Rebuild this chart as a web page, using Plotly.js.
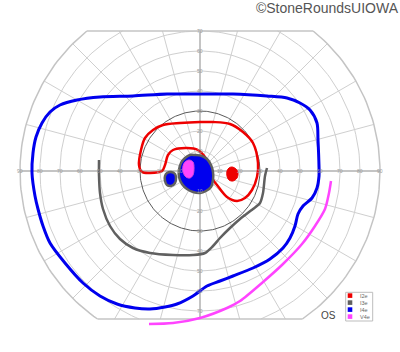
<!DOCTYPE html>
<html><head><meta charset="utf-8">
<script src="https://cdn.plot.ly/plotly-3.0.1.min.js"></script>
<style>html,body{margin:0;padding:0;background:#fff}#chart{width:400px;height:352px}</style>
</head><body><div id="chart"></div>
<script>
// ---------- text ----------
const titleText = '\u00A9StoneRoundsUIOWA';
const eyeLabel = 'OS';
const legendNames = ['I2e', 'I3e', 'I4e', 'V4e'];
const legendColors = ['#ee0000', '#606060', '#0000ee', '#ff44ff'];
const ringDegrees = [10, 20, 30, 40, 50, 60, 70, 80, 90];
const hTickLabels = [10, 20, 30, 40, 50, 60, 70, 80, 90];
const vTickLabels = [10, 20, 30, 40, 50, 60, 70];
const spokeStep = 15;
const fieldTop = 70, fieldBottom = 74, fieldOuter = 90;

// ---------- isopters (degrees: x = temporal/nasal, y = superior/inferior) ----------
const i4eX = [59.5, 59, 58.5, 55, 50, 43.5, 33.5, 16.5, 0, -16.5, -33.5, -50, -61.5, -70, -75, -79, -82, -83.5, -84,
  -82.5, -81, -78.5, -75, -67.5, -58.5, -50, -41.5, -32.5, -25, -17.5, -11.5, -3.5, 3.5, 10, 16.5, 26.5, 35, 41.5,
  45, 47.5, 49, 51.5, 56, 58.5, 59.5, 59.5];
const i4eY = [2, 15.5, 24, 30.5, 34, 36.5, 37.5, 38.5, 38.5, 38.5, 37.5, 37, 35.5, 33, 29.5, 24, 17, 9, -1,
  -12.5, -19, -27.5, -36, -46, -56, -62.5, -66.5, -68.5, -69, -68, -66.5, -62.5, -57.5, -55, -52.5, -48.5, -44, -38.5,
  -33.5, -27.5, -21.5, -17.5, -13.5, -8.5, -2.5, 2];

const i2eX = [0, 6.5, 15, 21.5, 26.5, 29, 28.5, 26, 22.5, 18.5, 13.5, 8.5, 6, 5, 2.5, -1, -6.5, -13.5, -16, -17.5,
  -19, -25, -29, -30.5, -29.5, -27.5, -23.5, -18.5, -10, 0];
const i2eY = [24.5, 24.5, 23.5, 19.5, 14, 4, -3, -9.5, -13.5, -15, -13, -7, -3.5, 2, 7, 10.5, 11.5, 10.5, 8, 3,
  0, -1, -0.5, 3, 10.5, 16.5, 20.5, 23, 24, 24.5];
const i2eSpotX = [16, 18, 19, 18.5, 16.5, 14.5, 13.5, 13.5, 14.5, 16];
const i2eSpotY = [2, 1, -1, -3.5, -5, -4.5, -2.5, 0, 1.5, 2];

const i3eX = [-50.5, -50.5, -50, -48.5, -45, -40, -33.5, -25, -13.5, -3.5, 2.5, 6.5, 10, 15, 20, 26.5, 30, 31.5, 32.5, 33.5];
const i3eY = [5.5, -2.5, -11, -19, -27.5, -34, -38.5, -41, -42, -42, -41, -37.5, -33.5, -28.5, -24, -19, -16, -11, -2.5, 1.5];

const v4eX = [-25.5, -13.5, 0, 13.5, 20, 31.5, 41.5, 51, 57.5, 62.5, 64.5, 65.5];
const v4eY = [-76.5, -76, -73.5, -68.5, -65, -55.5, -46.5, -36.5, -27.5, -19, -11, -5];

const centerBlobX = [-2.5, 1, 3.5, 5.5, 6.5, 6.5, 5.5, 3, 0, -3.5, -6.5, -9, -10.5, -10.5, -9.5, -7.5, -5, -2.5];
const centerBlobY = [8, 7.5, 6, 3, -0.5, -4.5, -8, -10, -11, -10.5, -9, -6.5, -3, 0.5, 4, 6.5, 8, 8];
const leftBlobX = [-14.5, -12.5, -12, -12.5, -14.5, -16.5, -17.5, -17.5, -16.5, -14.5];
const leftBlobY = [-0.5, -1.5, -3.5, -6, -7.5, -7, -5, -2.5, -1, -0.5];
const v4eSpotX = [-5.5, -3.5, -3, -3.5, -5, -7, -8.5, -8.5, -7.5, -5.5];
const v4eSpotY = [5.5, 4.5, 1.5, -2, -3.5, -3, -0.5, 2.5, 4.5, 5.5];

// ---------- grid geometry ----------
const rad = d => d * Math.PI / 180;
function arc(r, a0, a1, xs, ys) {
  const n = Math.max(8, Math.ceil(Math.abs(a1 - a0) / 1.5));
  for (let i = 0; i <= n; i++) {
    const a = rad(a0 + (a1 - a0) * i / n);
    xs.push(r * Math.cos(a)); ys.push(r * Math.sin(a));
  }
  xs.push(null); ys.push(null);
}
function ringPath(r, xs, ys) {
  if (r <= fieldTop) { arc(r, 0, 360, xs, ys); return; }
  const at = Math.asin(Math.min(1, fieldTop / r)) * 180 / Math.PI;
  const ab = Math.asin(Math.min(1, fieldBottom / r)) * 180 / Math.PI;
  arc(r, -ab, at, xs, ys);
  arc(r, 180 - at, 180 + ab, xs, ys);
}
const gx = [], gy = [], dx30 = [], dy30 = [], bx = [], by = [];
ringDegrees.forEach(r => {
  if (r === 30) ringPath(r, dx30, dy30);
  else if (r === fieldOuter) ringPath(r, bx, by);
  else ringPath(r, gx, gy);
});
const topHalf = Math.sqrt(fieldOuter * fieldOuter - fieldTop * fieldTop);
const botHalf = Math.sqrt(fieldOuter * fieldOuter - fieldBottom * fieldBottom);
bx.push(-topHalf, topHalf, null, -botHalf, botHalf, null);
by.push(fieldTop, fieldTop, null, -fieldBottom, -fieldBottom, null);
for (let a = spokeStep; a < 360; a += spokeStep) {
  if (a % 90 === 0) continue;
  const s = Math.sin(rad(a));
  let d = fieldOuter;
  if (s > 0) d = Math.min(d, fieldTop / s);
  if (s < 0) d = Math.min(d, fieldBottom / -s);
  gx.push(0, d * Math.cos(rad(a)), null);
  gy.push(0, d * Math.sin(rad(a)), null);
}

const traces = [
  {x: gx, y: gy, mode: 'lines', line: {color: '#cfcfcf', width: 1}, hoverinfo: 'skip'},
  {x: bx, y: by, mode: 'lines', line: {color: '#c4c4c4', width: 1.5}, hoverinfo: 'skip'},
  {x: [-fieldOuter, fieldOuter, null, 0, 0], y: [0, 0, null, -fieldBottom, fieldTop], mode: 'lines',
   line: {color: '#c4c4c4', width: 2}, hoverinfo: 'skip'},
  {x: dx30, y: dy30, mode: 'lines', line: {color: '#5a5a5a', width: 1}, hoverinfo: 'skip'},
  // isopters
  {x: i4eX, y: i4eY, mode: 'lines', line: {color: legendColors[2], width: 3, shape: 'spline', smoothing: 0.8}},
  {x: i3eX, y: i3eY, mode: 'lines', line: {color: legendColors[1], width: 2.5, shape: 'spline', smoothing: 0.8}},
  {x: v4eX, y: v4eY, mode: 'lines', line: {color: legendColors[3], width: 2.5, shape: 'spline', smoothing: 0.8}},
  {x: i2eX, y: i2eY, mode: 'lines', line: {color: legendColors[0], width: 2.5, shape: 'spline', smoothing: 0.9}},
  {x: i2eSpotX, y: i2eSpotY, mode: 'lines', fill: 'toself', fillcolor: legendColors[0],
   line: {color: legendColors[0], width: 1, shape: 'spline'}},
  {x: centerBlobX, y: centerBlobY, mode: 'lines', fill: 'toself', fillcolor: legendColors[2],
   line: {color: legendColors[1], width: 2.5, shape: 'spline'}},
  {x: leftBlobX, y: leftBlobY, mode: 'lines', fill: 'toself', fillcolor: legendColors[2],
   line: {color: legendColors[1], width: 2.5, shape: 'spline'}},
  {x: v4eSpotX, y: v4eSpotY, mode: 'lines', fill: 'toself', fillcolor: legendColors[3],
   line: {color: '#d84ad8', width: 1, shape: 'spline'}}
];

// ---------- annotations ----------
const P2X = px => (px - 200) / 2, P2Y = py => (171 - py) / 2;
const ann = [];
const tickFont = {family: 'Liberation Sans, Arial, sans-serif', size: 5, color: '#9a9a9a'};
hTickLabels.forEach(v => {
  ann.push({x: -v, y: 0, text: String(v), showarrow: false, font: tickFont});
  ann.push({x: v, y: 0, text: String(v), showarrow: false, font: tickFont});
});
vTickLabels.forEach(v => {
  ann.push({x: 0, y: v, text: String(v), showarrow: false, font: tickFont});
  ann.push({x: 0, y: -v, text: String(v), showarrow: false, font: tickFont});
});
ann.push({x: P2X(328.5), y: P2Y(315.5), text: eyeLabel, showarrow: false,
  font: {family: 'Liberation Sans, Arial, sans-serif', size: 10, color: '#444'}});
const shapes = [{type: 'rect', x0: P2X(345.7), x1: P2X(372.7), y0: P2Y(292.3), y1: P2Y(321),
  line: {color: '#bdbdbd', width: 1}, fillcolor: 'rgba(0,0,0,0)'}];
legendNames.forEach((name, i) => {
  const cy = 295.6 + i * 7;
  shapes.push({type: 'rect', x0: P2X(347.7), x1: P2X(352.3), y0: P2Y(cy - 2.3), y1: P2Y(cy + 2.3),
    line: {width: 0}, fillcolor: legendColors[i]});
  ann.push({x: P2X(357.5), y: P2Y(cy), xanchor: 'left', text: name, showarrow: false,
    font: {family: 'Liberation Sans, Arial, sans-serif', size: 5.5, color: '#666'}});
});

const layout = {
  width: 400, height: 352,
  margin: {l: 18, r: 18, t: 11, b: 21, pad: 0},
  paper_bgcolor: '#fff', plot_bgcolor: '#fff',
  showlegend: false,
  title: {text: titleText, x: 0.995, xref: 'container', xanchor: 'right', y: 0.977, yref: 'container',
    yanchor: 'middle', font: {family: 'Liberation Sans, Arial, sans-serif', size: 14, color: '#555'}},
  xaxis: {range: [-91, 91], visible: false, fixedrange: true},
  yaxis: {range: [-80, 80], visible: false, fixedrange: true},
  annotations: ann, shapes: shapes
};
Plotly.newPlot('chart', traces, layout, {staticPlot: true, displayModeBar: false});
</script></body></html>
